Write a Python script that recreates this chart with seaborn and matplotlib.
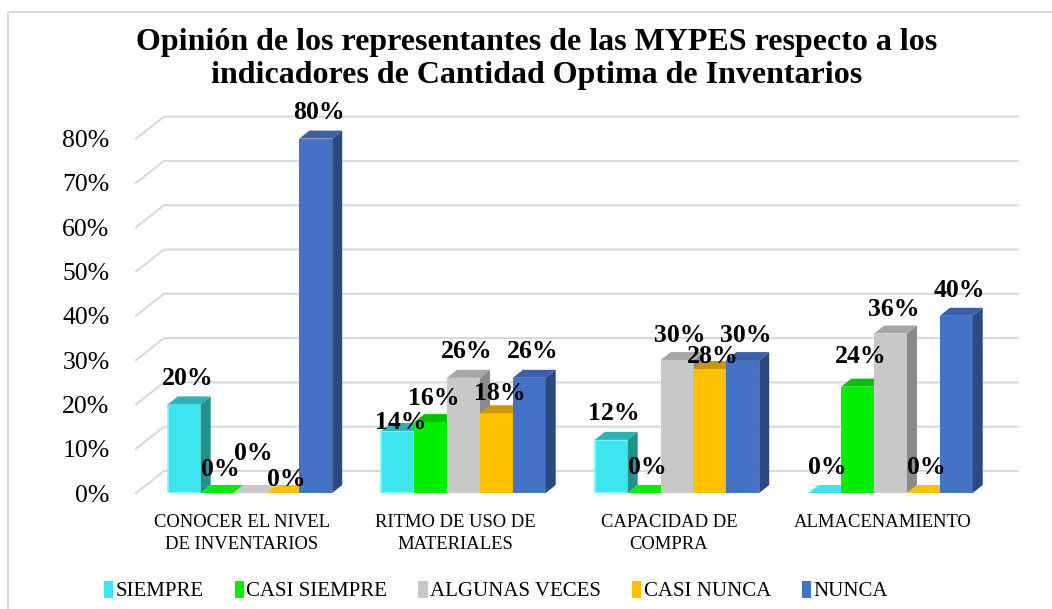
import pandas as pd
import seaborn as sns
import matplotlib.pyplot as plt
from matplotlib.patches import Polygon
from matplotlib.transforms import IdentityTransform, ScaledTranslation
from matplotlib.lines import Line2D

categories = ['CONOCER EL NIVEL\nDE INVENTARIOS', 'RITMO DE USO DE\nMATERIALES',
              'CAPACIDAD DE\nCOMPRA', 'ALMACENAMIENTO']
series = ['SIEMPRE', 'CASI SIEMPRE', 'ALGUNAS VECES', 'CASI NUNCA', 'NUNCA']
siempre = [0.20, 0.14, 0.12, 0.00]
casi_siempre = [0.00, 0.16, 0.00, 0.24]
algunas_veces = [0.00, 0.26, 0.30, 0.36]
casi_nunca = [0.00, 0.18, 0.28, 0.00]
nunca = [0.80, 0.26, 0.30, 0.40]
y_ticks = [0, 0.1, 0.2, 0.3, 0.4, 0.5, 0.6, 0.7, 0.8]

# styling
front = ['#3DE6EE', '#00F000', '#C8C8C8', '#FFC000', '#4472C4']
side = ['#23908F', '#009A00', '#8A8A8A', '#B88A00', '#2C4A82']
top = ['#2BB3B8', '#00C400', '#A6A6A6', '#C99700', '#3A5FA6']
# label offsets above each bar (px), per series / category
label_dy = [[26, 8, 26, 26],
            [24, 24, 26, 30],
            [40, 26, 25, 24],
            [13, 20, 12, 26],
            [26, 26, 25, 25]]

values = [siempre, casi_siempre, algunas_veces, casi_nunca, nunca]
df = pd.DataFrame({
    'Indicador': [c for v in values for c in categories],
    'Respuesta': [s for s, v in zip(series, values) for _ in v],
    'Porcentaje': [x for v in values for x in v],
})

plt.rcParams['font.family'] = ['Liberation Serif', 'DejaVu Serif']
W, H = 1052, 609
fig = plt.figure(figsize=(W / 100, H / 100), dpi=100)
ax = fig.add_axes([136 / W, 116 / H, (1018 - 136) / W, 0.82 * 443 / H])

sns.barplot(data=df, x='Indicador', y='Porcentaje', hue='Respuesta',
            hue_order=series, order=categories, palette=front,
            width=0.77, gap=0, saturation=1, ax=ax, legend=False)
ax.set_xlim(-0.534, 3.597)
ax.set_ylim(0, 0.82)
for s in ax.spines.values():
    s.set_visible(False)
ax.set_xlabel('')
ax.set_ylabel('')

# 3D-looking grid
fig.canvas.draw()
px = IdentityTransform()
for v in y_ticks:
    yf = ax.transData.transform((0, v))[1]
    ax.add_line(Line2D([136, 164, 1018], [yf, yf + 22, yf + 22], color='#D9D9D9',
                       lw=1.5, transform=px, zorder=0, clip_on=False))

ax.set_yticks(y_ticks)
ax.set_yticklabels([f'{int(round(v * 100))}%' for v in y_ticks], fontsize=18.5)
ax.tick_params(axis='y', length=0, pad=19)
ax.tick_params(axis='x', length=0, pad=15)
ax.set_xticks(range(len(categories)))
ax.set_xticklabels(categories, fontsize=13.4, linespacing=1.4)
for lab in ax.get_xticklabels():
    lab.set_transform(lab.get_transform() + ScaledTranslation(-8 / 100, 0, fig.dpi_scale_trans))

dx, dy = 10, 8
for i, cont in enumerate(ax.containers):
    for j, bar in enumerate(cont):
        z = 2 + i * 0.1 + j
        bar.set_zorder(z)
        if i == 0:
            bar.set_edgecolor('#7FF7FA')
            bar.set_linewidth(1.2)
        x0, y0 = ax.transData.transform((bar.get_x(), 0))
        x1, y1 = ax.transData.transform((bar.get_x() + bar.get_width(), bar.get_height()))
        ax.add_patch(Polygon([(x1, y0), (x1 + dx, y0 + dy), (x1 + dx, y1 + dy), (x1, y1)],
                             closed=True, fc=side[i], ec='none', transform=px,
                             zorder=z, clip_on=False))
        ax.add_patch(Polygon([(x0, y1), (x1, y1), (x1 + dx, y1 + dy), (x0 + dx, y1 + dy)],
                             closed=True, fc=top[i] if bar.get_height() > 0 else front[i],
                             ec='none', transform=px, zorder=z, clip_on=False))
        cx = bar.get_x() + bar.get_width() / 2
        h = bar.get_height()
        ax.annotate(f'{int(round(h * 100))}%', (cx, h), xytext=(3, label_dy[i][j]),
                    textcoords='offset pixels', ha='center', va='center',
                    fontsize=18.5, fontweight='bold', zorder=10, annotation_clip=False)

fig.text(537 / W, 1 - 59 / H,
         'Opinión de los representantes de las MYPES respecto a los\n'
         'indicadores de Cantidad Optima de Inventarios',
         ha='center', va='center', fontsize=23, fontweight='bold', linespacing=1.2)

handles = [plt.Rectangle((0, 0), 1, 1, fc=c, ec='none') for c in front]
fig.legend(handles, series, loc='center', bbox_to_anchor=(496 / W, 1 - 591 / H),
           ncol=5, frameon=False, fontsize=15, handlelength=0.45, handleheight=0.9,
           handletextpad=0.1, columnspacing=1.5)

# chart area border
fig.add_artist(Line2D([8, 8, W], [0, H - 12, H - 12], color='#D9D9D9', lw=1.5,
                      transform=px))

fig.savefig('out.png', dpi=100)
